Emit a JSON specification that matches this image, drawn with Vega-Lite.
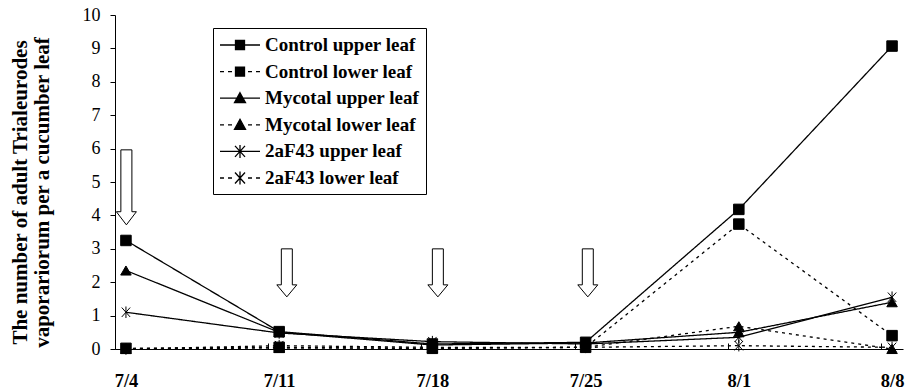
{
  "$schema": "https://vega.github.io/schema/vega-lite/v6.json",
  "width": 788,
  "height": 334,
  "autosize": {"type": "none"},
  "padding": {"left": 115, "top": 15, "right": 3, "bottom": 41},
  "config": {"view": {"stroke": null}, "font": "Liberation Serif"},
  "datasets": {
    "counts": [
      {"series": "Control upper leaf", "leaf": "upper", "day": 0, "value": 3.25},
      {"series": "Control upper leaf", "leaf": "upper", "day": 7, "value": 0.52},
      {"series": "Control upper leaf", "leaf": "upper", "day": 14, "value": 0.15},
      {"series": "Control upper leaf", "leaf": "upper", "day": 21, "value": 0.2},
      {"series": "Control upper leaf", "leaf": "upper", "day": 28, "value": 4.18},
      {"series": "Control upper leaf", "leaf": "upper", "day": 35, "value": 9.07},
      {"series": "Control lower leaf", "leaf": "lower", "day": 0, "value": 0.02},
      {"series": "Control lower leaf", "leaf": "lower", "day": 7, "value": 0.05},
      {"series": "Control lower leaf", "leaf": "lower", "day": 14, "value": 0.02},
      {"series": "Control lower leaf", "leaf": "lower", "day": 21, "value": 0.05},
      {"series": "Control lower leaf", "leaf": "lower", "day": 28, "value": 3.74},
      {"series": "Control lower leaf", "leaf": "lower", "day": 35, "value": 0.4},
      {"series": "Mycotal upper leaf", "leaf": "upper", "day": 0, "value": 2.35},
      {"series": "Mycotal upper leaf", "leaf": "upper", "day": 7, "value": 0.5},
      {"series": "Mycotal upper leaf", "leaf": "upper", "day": 14, "value": 0.12},
      {"series": "Mycotal upper leaf", "leaf": "upper", "day": 21, "value": 0.18},
      {"series": "Mycotal upper leaf", "leaf": "upper", "day": 28, "value": 0.5},
      {"series": "Mycotal upper leaf", "leaf": "upper", "day": 35, "value": 1.4},
      {"series": "Mycotal lower leaf", "leaf": "lower", "day": 0, "value": 0.0},
      {"series": "Mycotal lower leaf", "leaf": "lower", "day": 7, "value": 0.03},
      {"series": "Mycotal lower leaf", "leaf": "lower", "day": 14, "value": 0.02},
      {"series": "Mycotal lower leaf", "leaf": "lower", "day": 21, "value": 0.05},
      {"series": "Mycotal lower leaf", "leaf": "lower", "day": 28, "value": 0.68},
      {"series": "Mycotal lower leaf", "leaf": "lower", "day": 35, "value": 0.0},
      {"series": "2aF43 upper leaf", "leaf": "upper", "day": 0, "value": 1.1},
      {"series": "2aF43 upper leaf", "leaf": "upper", "day": 7, "value": 0.48},
      {"series": "2aF43 upper leaf", "leaf": "upper", "day": 14, "value": 0.22},
      {"series": "2aF43 upper leaf", "leaf": "upper", "day": 21, "value": 0.15},
      {"series": "2aF43 upper leaf", "leaf": "upper", "day": 28, "value": 0.35},
      {"series": "2aF43 upper leaf", "leaf": "upper", "day": 35, "value": 1.55},
      {"series": "2aF43 lower leaf", "leaf": "lower", "day": 0, "value": 0.0},
      {"series": "2aF43 lower leaf", "leaf": "lower", "day": 7, "value": 0.1},
      {"series": "2aF43 lower leaf", "leaf": "lower", "day": 14, "value": 0.05},
      {"series": "2aF43 lower leaf", "leaf": "lower", "day": 21, "value": 0.05},
      {"series": "2aF43 lower leaf", "leaf": "lower", "day": 28, "value": 0.1},
      {"series": "2aF43 lower leaf", "leaf": "lower", "day": 35, "value": 0.05}
    ],
    "arrows": [
      {"day": 0.02, "value": 4.84, "kind": "long"},
      {"day": 7.35, "value": 2.28, "kind": "short"},
      {"day": 14.25, "value": 2.28, "kind": "short"},
      {"day": 21.1, "value": 2.28, "kind": "short"}
    ]
  },
  "encoding": {
    "x": {
      "field": "day",
      "type": "quantitative",
      "scale": {"domain": [-0.5, 35.5], "nice": false, "zero": false},
      "axis": {
        "title": null,
        "values": [0, 7, 14, 21, 28, 35],
        "labelExpr": "['7/4','7/11','7/18','7/25','8/1','8/8'][round(datum.value/7)]",
        "grid": false,
        "domainColor": "black",
        "domainWidth": 1,
        "tickColor": "black",
        "tickSize": -6,
        "tickOffset": -11,
        "labelOffset": 11,
        "labelPadding": 28,
        "labelFont": "Liberation Serif",
        "labelFontSize": 18.5,
        "labelFontWeight": "bold",
        "labelColor": "black",
        "labelFlush": false
      }
    },
    "y": {
      "field": "value",
      "type": "quantitative",
      "scale": {"domain": [0, 10], "nice": false},
      "axis": {
        "title": ["The number of adult Trialeurodes", "vaporariorum  per a cucumber leaf"],
        "titleFont": "Liberation Serif",
        "titleFontSize": 21,
        "titleFontWeight": "bold",
        "titleColor": "#000000",
        "titleLineHeight": 22,
        "titlePadding": 30,
        "titleY": 177,
        "values": [0, 1, 2, 3, 4, 5, 6, 7, 8, 9, 10],
        "grid": false,
        "domainColor": "black",
        "tickColor": "black",
        "tickSize": 5,
        "labelPadding": 10,
        "labelFont": "Liberation Serif",
        "labelFontSize": 18,
        "labelColor": "black"
      }
    }
  },
  "layer": [
    {
      "data": {"name": "arrows"},
      "transform": [{"filter": "datum.kind === 'long'"}],
      "mark": {
        "type": "point",
        "shape": "M-0.147,-1L0.147,-1L0.147,0.65L0.267,0.65L0,1L-0.267,0.65L-0.147,0.65Z",
        "size": 5625,
        "filled": false,
        "fill": "white",
        "stroke": "black",
        "strokeWidth": 1,
        "opacity": 1
      },
      "encoding": {}
    },
    {
      "data": {"name": "arrows"},
      "transform": [{"filter": "datum.kind === 'short'"}],
      "mark": {
        "type": "point",
        "shape": "M-0.229,-1L0.229,-1L0.229,0.5L0.417,0.5L0,1L-0.417,0.5L-0.229,0.5Z",
        "size": 2304,
        "filled": false,
        "fill": "white",
        "stroke": "black",
        "strokeWidth": 1,
        "opacity": 1
      },
      "encoding": {}
    },
    {
      "data": {"name": "counts"},
      "mark": {"type": "line", "color": "black", "strokeWidth": 1.3},
      "encoding": {
        "detail": {"field": "series", "type": "nominal"},
        "strokeDash": {
          "field": "leaf",
          "type": "nominal",
          "scale": {"domain": ["upper", "lower"], "range": [[1, 0], [3, 4]]},
          "legend": null
        }
      }
    },
    {
      "data": {"name": "counts"},
      "mark": {
        "type": "point",
        "filled": true,
        "fill": "black",
        "stroke": "black",
        "strokeWidth": 1,
        "opacity": 1,
        "size": 110
      },
      "encoding": {
        "shape": {
          "field": "series",
          "type": "nominal",
          "scale": {
            "domain": ["Control upper leaf", "Control lower leaf", "Mycotal upper leaf", "Mycotal lower leaf", "2aF43 upper leaf", "2aF43 lower leaf"],
            "range": ["square", "square", "triangle-up", "triangle-up", "M-0.8,-0.9L0.8,0.9M-0.8,0.9L0.8,-0.9M0,-1.1L0,1.1", "M-0.8,-0.9L0.8,0.9M-0.8,0.9L0.8,-0.9M0,-1.1L0,1.1"]
          },
          "legend": null
        }
      }
    },
    {
      "data": {"name": "counts"},
      "transform": [{"filter": "false"}],
      "mark": {
        "type": "point",
        "filled": false,
        "fill": "black",
        "stroke": "black",
        "color": "black",
        "strokeWidth": 1.3,
        "opacity": 1,
        "size": 400
      },
      "encoding": {
        "shape": {
          "field": "series",
          "type": "nominal",
          "scale": {
            "domain": ["Control upper leaf", "Control lower leaf", "Mycotal upper leaf", "Mycotal lower leaf", "2aF43 upper leaf", "2aF43 lower leaf"],
            "range": [
              "M-2,0L2,0M-0.45,-0.45L0.45,-0.45L0.45,0.45L-0.45,0.45Z",
              "M-2,0L-1.6,0M-1.2,0L-0.8,0M0.8,0L1.2,0M1.6,0L2,0M-0.45,-0.45L0.45,-0.45L0.45,0.45L-0.45,0.45Z",
              "M-2,0L2,0M0,-0.55L0.55,0.45L-0.55,0.45Z",
              "M-2,0L-1.6,0M-1.2,0L-0.8,0M0.8,0L1.2,0M1.6,0L2,0M0,-0.55L0.55,0.45L-0.55,0.45Z",
              "M-2,0L2,0M-0.5,-0.55L0.5,0.55M-0.5,0.55L0.5,-0.55M0,-0.65L0,0.65",
              "M-2,0L-1.6,0M-1.2,0L-0.8,0M0.8,0L1.2,0M1.6,0L2,0M-0.5,-0.55L0.5,0.55M-0.5,0.55L0.5,-0.55M0,-0.65L0,0.65"
            ]
          },
          "legend": {
            "orient": "none",
            "legendX": 98,
            "legendY": 13,
            "title": null,
            "strokeColor": "black",
            "fillColor": "white",
            "padding": 6,
            "symbolSize": 400,
            "symbolOffset": 10,
            "symbolStrokeWidth": 1.3,
            "labelOffset": 14,
            "rowPadding": 5.6,
            "labelFont": "Liberation Serif",
            "labelFontSize": 19,
            "labelFontWeight": "bold",
            "labelColor": "black",
            "labelLimit": 400,
            "encode": {
              "symbols": {
                "update": {
                  "fill": {"value": "black"},
                  "stroke": {"value": "black"},
                  "strokeWidth": {"value": 1.3},
                  "opacity": {"value": 1}
                },
                "fill": {"value": "black"},
                "stroke": {"value": "black"},
                "strokeWidth": {"value": 1.3},
                "opacity": {"value": 1}
              }
            }
          }
        }
      }
    }
  ],
  "resolve": {"scale": {"shape": "independent"}, "legend": {"shape": "independent"}}
}
